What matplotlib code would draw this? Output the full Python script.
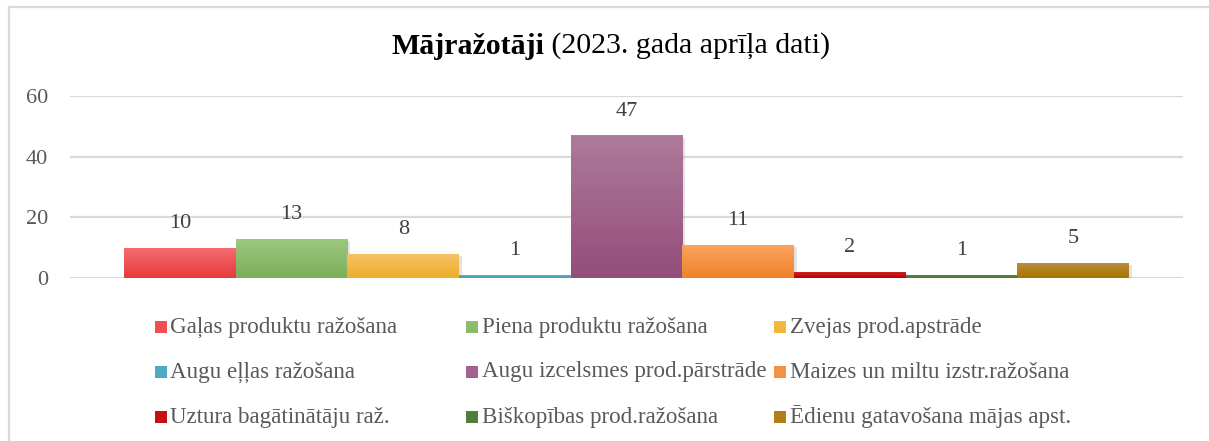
import matplotlib
matplotlib.use("Agg")
import matplotlib.pyplot as plt
import numpy as np
from matplotlib.colors import LinearSegmentedColormap
from matplotlib.patches import Rectangle
from matplotlib.lines import Line2D
import matplotlib.patheffects as pe

categories = [
    "Gaļas produktu ražošana",
    "Piena produktu ražošana",
    "Zvejas prod.apstrāde",
    "Augu eļļas ražošana",
    "Augu izcelsmes prod.pārstrāde",
    "Maizes un miltu izstr.ražošana",
    "Uztura bagātinātāju raž.",
    "Biškopības prod.ražošana",
    "Ēdienu gatavošana mājas apst.",
]
values = [10, 13, 8, 1, 47, 11, 2, 1, 5]
yticks = [0, 20, 40, 60]

top_colors = ["#F46E70", "#9DC882", "#F5C466", "#5DB5CC", "#AE7A9B",
              "#FAA464", "#D02828", "#5C8C46", "#BB8D3E"]
bot_colors = ["#E8393B", "#7CAE5A", "#EDAD28", "#44A0B8", "#944D7B",
              "#EE8228", "#BA0000", "#4A7434", "#A87400"]
mid_colors = ["#F04E50", "#8DBB6E", "#F1B840", "#4FAAC2", "#A2628B",
              "#F49242", "#C41010", "#527E3C", "#B07F18"]

FONT = ["Liberation Serif", "DejaVu Serif"]
plt.rcParams["font.family"] = FONT

W, H = 1209, 441
fig = plt.figure(figsize=(W / 100, H / 100), dpi=100)
fig.patch.set_facecolor("white")

# outer chart border (top and left visible)
fig.add_artist(Line2D([8.5 / W, 1.0], [1 - 6.5 / H, 1 - 6.5 / H], transform=fig.transFigure,
                      color="#D9D9D9", lw=1.6))
fig.add_artist(Line2D([8.5 / W, 8.5 / W], [0, 1 - 6.5 / H], transform=fig.transFigure,
                      color="#D9D9D9", lw=1.6))

left, right = 70 / W, 1183 / W
bottom, top = 1 - 278 / H, 1 - 96 / H
ax = fig.add_axes([left, bottom, right - left, top - bottom])

n = len(values)
x = np.arange(n)
bars = ax.bar(x, values, width=1.0, color=mid_colors, zorder=3, linewidth=0)
for b in bars:
    b.set_path_effects([pe.SimplePatchShadow(offset=(2.0, -1.5), shadow_rgbFace="#909090", alpha=0.25),
                        pe.Normal()])

grad = np.linspace(0, 1, 64).reshape(-1, 1)
for i, b in enumerate(bars):
    cmap = LinearSegmentedColormap.from_list("g%d" % i, [bot_colors[i], top_colors[i]])
    x0 = b.get_x()
    im = ax.imshow(grad, extent=(x0, x0 + b.get_width(), 0, b.get_height()), origin="lower",
                   cmap=cmap, aspect="auto", zorder=4, interpolation="bilinear")
    im.set_clip_path(b)

gap = 54 / 111.5
ax.set_xlim(-0.5 - gap, n - 0.5 + gap)
ax.set_ylim(0, 60)
ax.set_yticks(yticks)
ax.set_xticks([])
ax.tick_params(axis="y", length=0, pad=16, labelsize=16, labelcolor="#595959")
for lab in ax.get_yticklabels():
    lab.set_family(FONT)
for s in ax.spines.values():
    s.set_visible(False)
ax.grid(axis="y", color="#D9D9D9", lw=1.6, zorder=0)
ax.set_axisbelow(True)

for i, v in enumerate(values):
    ax.annotate(str(v), xy=(x[i], v), xytext=(0, 17.5), textcoords="offset points",
                ha="center", va="center", fontsize=16, color="#404040", family=FONT)

# title: bold + regular parts, centred together
fig.canvas.draw()
r = fig.canvas.get_renderer()
tsize = 21.5
t1 = fig.text(0, 0, "Mājražotāji", fontsize=tsize, fontweight="bold", color="black", family=FONT)
t2 = fig.text(0, 0, " (2023. gada aprīļa dati)", fontsize=tsize, color="black", family=FONT)
w1 = t1.get_window_extent(r).width
w2 = t2.get_window_extent(r).width
cx = 611
ty = 1 - 46 / H
x_start = cx - (w1 + w2) / 2
t1.set_position((x_start / W, ty))
t1.set_va("center")
t2.set_position(((x_start + w1) / W, ty))
t2.set_va("center")

# legend (Excel-style, row-major, fixed columns)
col_x = [160.5, 472, 780]
row_y = [327, 372, 417]
sq = 12
for k, name in enumerate(categories):
    r_i, c_i = divmod(k, 3)
    mx, my = col_x[c_i], row_y[r_i]
    fig.add_artist(Rectangle(((mx - sq / 2) / W, 1 - (my + sq / 2) / H), sq / W, sq / H,
                             transform=fig.transFigure, facecolor=mid_colors[k], edgecolor="none"))
    fig.text((mx + sq / 2 + 4) / W, 1 - my / H, name, fontsize=16.6, color="#595959",
             ha="left", va="center", family=FONT)

fig.savefig("out.png", dpi=100, facecolor="white")
